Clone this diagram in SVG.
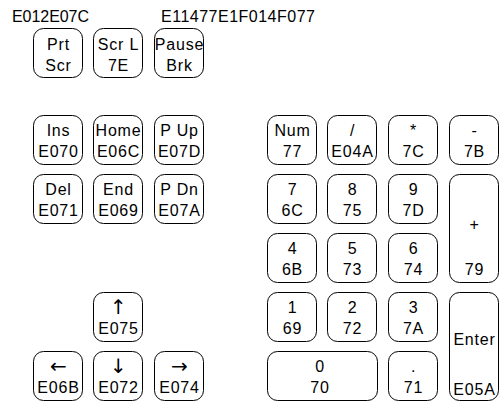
<svg xmlns="http://www.w3.org/2000/svg" width="501" height="410" viewBox="0 0 501 410">
<style>
.k{fill:#fff;stroke:#000;stroke-width:1}
text{font-family:"Liberation Sans",Arial,sans-serif;font-size:16px;fill:#000;letter-spacing:0.8px;text-anchor:middle}
.h{text-anchor:start;letter-spacing:0}
.a{font-family:"DejaVu Sans",sans-serif;font-size:20px;letter-spacing:0}
</style>
<defs>
<rect id="key" class="k" width="49" height="49" rx="10" ry="10"/>
<rect id="tall" class="k" width="49" height="108" rx="10" ry="10"/>
<rect id="wide" class="k" width="110" height="49" rx="10" ry="10"/>
</defs>
<text class="h" x="12" y="22" textLength="77" lengthAdjust="spacing">E012E07C</text>
<text class="h" x="161" y="22" textLength="154" lengthAdjust="spacing">E11477E1F014F077</text>
<g id="prtscr"><use href="#key" x="33.5" y="28.5"/><text x="58.5" y="50">Prt</text><text x="58.5" y="71">Scr</text></g>
<g id="scrl"><use href="#key" x="93.5" y="28.5"/><text x="118.5" y="50">Scr L</text><text x="118.5" y="71">7E</text></g>
<g id="pause"><use href="#key" x="154.5" y="28.5"/><text x="179.5" y="50">Pause</text><text x="179.5" y="71">Brk</text></g>
<g id="ins"><use href="#key" x="33.5" y="115.5"/><text x="58.5" y="136">Ins</text><text x="58.5" y="157">E070</text></g>
<g id="home"><use href="#key" x="93.5" y="115.5"/><text x="118.5" y="136">Home</text><text x="118.5" y="157">E06C</text></g>
<g id="pup"><use href="#key" x="154.5" y="115.5"/><text x="179.5" y="136">P Up</text><text x="179.5" y="157">E07D</text></g>
<g id="del"><use href="#key" x="33.5" y="174.5"/><text x="58.5" y="195">Del</text><text x="58.5" y="216">E071</text></g>
<g id="end"><use href="#key" x="93.5" y="174.5"/><text x="118.5" y="195">End</text><text x="118.5" y="216">E069</text></g>
<g id="pdn"><use href="#key" x="154.5" y="174.5"/><text x="179.5" y="195">P Dn</text><text x="179.5" y="216">E07A</text></g>
<g id="up"><use href="#key" x="93.5" y="292.5"/><text class="a" x="118.5" y="314">↑</text><text x="118.5" y="334">E075</text></g>
<g id="left"><use href="#key" x="33.5" y="351.5"/><text class="a" x="58.5" y="373">←</text><text x="58.5" y="393">E06B</text></g>
<g id="down"><use href="#key" x="93.5" y="351.5"/><text class="a" x="118.5" y="373">↓</text><text x="118.5" y="393">E072</text></g>
<g id="right"><use href="#key" x="154.5" y="351.5"/><text class="a" x="179.5" y="373">→</text><text x="179.5" y="393">E074</text></g>
<g id="num"><use href="#key" x="267.5" y="115.5"/><text x="292.5" y="136">Num</text><text x="292.5" y="157">77</text></g>
<g id="slash"><use href="#key" x="327.5" y="115.5"/><text x="352.5" y="136">/</text><text x="352.5" y="157">E04A</text></g>
<g id="star"><use href="#key" x="388.5" y="115.5"/><text x="413.5" y="136">*</text><text x="413.5" y="157">7C</text></g>
<g id="minus"><use href="#key" x="449.5" y="115.5"/><text x="474.5" y="136">-</text><text x="474.5" y="157">7B</text></g>
<g id="n7"><use href="#key" x="267.5" y="174.5"/><text x="292.5" y="195">7</text><text x="292.5" y="216">6C</text></g>
<g id="n8"><use href="#key" x="327.5" y="174.5"/><text x="352.5" y="195">8</text><text x="352.5" y="216">75</text></g>
<g id="n9"><use href="#key" x="388.5" y="174.5"/><text x="413.5" y="195">9</text><text x="413.5" y="216">7D</text></g>
<g id="plus"><use href="#tall" x="449.5" y="174.5"/><text x="474.5" y="230">+</text><text x="474.5" y="275">79</text></g>
<g id="n4"><use href="#key" x="267.5" y="233.5"/><text x="292.5" y="254">4</text><text x="292.5" y="275">6B</text></g>
<g id="n5"><use href="#key" x="327.5" y="233.5"/><text x="352.5" y="254">5</text><text x="352.5" y="275">73</text></g>
<g id="n6"><use href="#key" x="388.5" y="233.5"/><text x="413.5" y="254">6</text><text x="413.5" y="275">74</text></g>
<g id="n1"><use href="#key" x="267.5" y="292.5"/><text x="292.5" y="313">1</text><text x="292.5" y="334">69</text></g>
<g id="n2"><use href="#key" x="327.5" y="292.5"/><text x="352.5" y="313">2</text><text x="352.5" y="334">72</text></g>
<g id="n3"><use href="#key" x="388.5" y="292.5"/><text x="413.5" y="313">3</text><text x="413.5" y="334">7A</text></g>
<g id="enter"><use href="#tall" x="449.5" y="292.5"/><text x="474.5" y="345">Enter</text><text x="474.5" y="395">E05A</text></g>
<g id="n0"><use href="#wide" x="267.5" y="351.5"/><text x="320" y="372">0</text><text x="320" y="393">70</text></g>
<g id="dot"><use href="#key" x="388.5" y="351.5"/><text x="413.5" y="372">.</text><text x="413.5" y="393">71</text></g>
<g id="connectors"/>
</svg>
